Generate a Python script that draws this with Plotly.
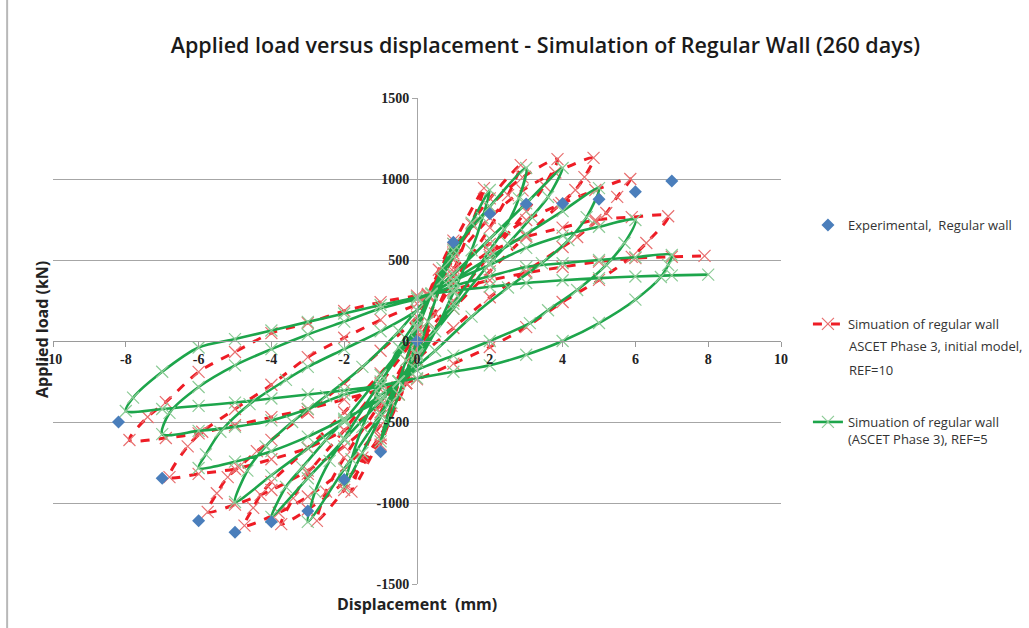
import plotly.graph_objects as go

# ---------------- data ----------------
exp_x = [0, 1, 2, 3, 4, 5, 6, 7, -1, -2, -3, -4, -5, -6, -7, -8.2]
exp_y = [0, 610, 785, 845, 848, 875, 922, 987, -683, -855, -1050, -1115, -1180, -1110, -847, -500]

# Simulation, ASCET Phase 3, initial model, REF=10 (cyclic path: N1,P1,N2,P2,...,N8,P8)
red_x = [0,
         -0.5, -1,
         -0.7, -0.3, 0, 0.3,
         0.6, 1,
         0.7, 0.3, 0, -0.3,
         -1, -1.8,
         -1.5, -1, 0, 0.3,
         1, 1.84,
         1.5, 1, 0.5, 0, -0.3,
         -1, -2, -2.75,
         -2.5, -2, -1, 0, 0.3,
         1, 2, 2.85,
         2.5, 2, 1, 0, -0.3,
         -1, -2, -3, -3.73,
         -3.4, -3, -2, -1, 0, 0.3,
         1, 2, 2.9, 3.86,
         3.5, 3, 2, 1, 0, -0.3,
         -1, -2, -3, -3.8, -4.74,
         -4.5, -4.3, -4, -3, -2, -1, 0, 0.3,
         1, 2, 2.9, 3.8, 4.85,
         4.6, 4.35, 3.97, 3, 2, 1, 0, -0.3,
         -1, -2, -3, -4, -5, -5.75,
         -5.5, -5.2, -4.9, -4.4, -4, -3, -2, -1, 0, 0.3,
         1, 2, 3, 3.9, 4.9, 5.86,
         5.5, 5.2, 4.9, 4.4, 4, 3, 2, 1, 0, -0.3,
         -1, -2, -3, -4, -5, -6, -6.8,
         -6.3, -5.9, -5, -4, -3, -2, -1, 0, 0.3,
         1, 2, 3, 4, 4.9, 5.9, 6.9,
         6.3, 5.9, 5, 4, 3, 2, 1, 0,
         -1, -2, -3, -4, -5, -6, -6.9, -7.9,
         -7.4, -6.9, -6, -5, -4, -3, -2, -1, 0, 0.3,
         1, 2, 3, 4, 5, 6, 7, 7.9]
red_y = [0,
         -330, -640,
         -400, -120, 80, 280,
         440, 620,
         380, 120, -80, -260,
         -600, -930,
         -720, -440, 20, 280,
         600, 944,
         720, 430, 170, -60, -260,
         -600, -920, -1110,
         -930, -720, -380, 20, 280,
         570, 880, 1086,
         900, 700, 360, -20, -260,
         -580, -870, -1040, -1130,
         -970, -820, -550, -260, 50, 280,
         540, 830, 1010, 1123,
         960, 800, 530, 250, -40, -260,
         -520, -790, -960, -1060, -1140,
         -1030, -950, -870, -660, -440, -200, 60, 280,
         500, 760, 930, 1040, 1130,
         1012, 932, 852, 650, 430, 200, -50, -260,
         -450, -650, -800, -920, -1010, -1055,
         -940, -840, -780, -680, -610, -440, -260, -60, 150, 280,
         450, 600, 747, 840, 932, 1000,
         890, 790, 735, 642, 580, 430, 270, 80, -120, -260,
         -400, -550, -660, -730, -790, -820, -840,
         -650, -560, -420, -270, -100, 20, 130, 230, 280,
         400, 550, 642, 700, 747, 765, 770,
         605, 519, 377, 241, 86, -37, -140, -236,
         -300, -360, -420, -470, -520, -570, -599, -611,
         -469, -377, -191, -68, 49, 111, 185, 240, 280, 290,
         320, 375, 420, 457, 490, 512, 520, 525]

# Simulation (ASCET Phase 3), REF=5 (cyclic path: N1,P1,N2,P2,...,N8,P8)
green_x = [0,
           -0.5, -1,
           -0.7, -0.3, 0, 0.4,
           0.7, 1,
           0.7, 0.3, 0, -0.5,
           -1, -1.5, -2,
           -1.8, -1.5, -1, -0.5, 0, 0.4,
           1, 1.5, 2,
           1.8, 1.5, 1, 0.5, 0, -0.5,
           -1, -2, -3,
           -2.8, -2.4, -2, -1, 0, 0.4,
           1, 2, 3,
           2.8, 2.4, 2, 1, 0, -0.5,
           -1, -2, -3, -4,
           -3.6, -3.15, -2.5, -2, -1, 0, 0.4,
           1, 2, 3, 4,
           3.6, 3.15, 2.5, 2, 1, 0, -0.5,
           -1, -2, -3, -4, -5,
           -4.66, -4.16, -3.43, -2.5, -1.5, -0.5, 0.4,
           1, 2, 3, 4, 5,
           4.66, 4.16, 3.43, 2.5, 1.5, 0.5, -0.5,
           -1, -2, -3, -4, -5, -6,
           -5.8, -5.4, -4.6, -3.6, -3, -2, -1, 0, 0.4,
           1, 2, 3, 4, 5, 6,
           5.7, 5.2, 4.4, 3.6, 3.1, 2, 1, 0, -0.5,
           -1, -2, -3, -4, -5, -6, -7,
           -6.8, -6, -5, -4, -3, -2, -1, 0, 0.4,
           1, 2, 3, 4, 5, 6, 7,
           6.9, 6.7, 6, 5, 4, 3, 2, 1, 0, -0.5,
           -1, -2, -3, -4, -5, -6, -7, -8,
           -7.8, -7, -6, -5, -4, -3, -2, -1, 0, 0.4,
           1, 2, 3, 4, 5, 6, 7, 8]
green_y = [0,
           -330, -620,
           -380, -120, 80, 290,
           450, 600,
           380, 120, -80, -250,
           -470, -690, -900,
           -730, -530, -280, -40, 130, 290,
           520, 730, 932,
           760, 560, 300, 60, -130, -250,
           -450, -790, -1117,
           -930, -740, -600, -250, 80, 290,
           560, 830, 1068,
           880, 690, 560, 230, -80, -250,
           -370, -608, -847, -1086,
           -900, -780, -610, -490, -210, 90, 290,
           412, 631, 850, 1068,
           889, 765, 600, 480, 200, -90, -250,
           -333, -498, -663, -829, -994,
           -800, -650, -500, -340, -160, 60, 290,
           375, 517, 660, 802, 944,
           765, 623, 481, 330, 150, -60, -250,
           -360, -480, -590, -680, -745, -784,
           -700, -560, -390, -240, -160, -50, 60, 190, 290,
           370, 470, 575, 650, 705, 747,
           605, 470, 315, 190, 110, 0, -90, -180, -250,
           -280, -330, -420, -490, -530, -555, -575,
           -444, -284, -150, -50, 40, 120, 200, 260, 290,
           340, 400, 457, 480, 500, 517, 531,
           470, 395, 255, 111, 0, -85, -150, -190, -230, -250,
           -275, -305, -330, -355, -380, -400, -420, -432,
           -350, -190, -40, 12, 65, 118, 170, 222, 270, 290,
           310, 335, 358, 375, 388, 398, 405, 410]

x_tick_vals = [-10, -8, -6, -4, -2, 0, 2, 4, 6, 8, 10]
x_tick_text = ["-10", "-8", "-6", "-4", "-2", "0", "2", "4", "6", "8", "10"]
y_tick_vals = [-1500, -1000, -500, 0, 500, 1000, 1500]
y_tick_text = ["-1500", "-1000", "-500", "0", "500", "1000", "1500"]

name_exp = "Experimental,  Regular wall"
name_red = "Simuation of regular wall"
name_red_more = ["ASCET Phase 3, initial model,", "REF=10"]
name_green = "Simuation of regular wall<br>(ASCET Phase 3), REF=5"

# ---------------- figure ----------------
fig = go.Figure()

fig.add_trace(go.Scatter(
    x=red_x, y=red_y, mode="lines+markers", name=name_red,
    line=dict(color="#EE1C25", width=3, dash="dash", shape="spline", smoothing=0.8),
    marker=dict(symbol="x-thin", size=12, color="#E87070",
                line=dict(width=1.2, color="#E87070")),
    legend="legend2", legendrank=2, showlegend=True,
))
fig.add_trace(go.Scatter(
    x=green_x, y=green_y, mode="lines+markers", name=name_green,
    line=dict(color="#1DA54B", width=2.6, shape="spline", smoothing=0.8),
    marker=dict(symbol="x-thin", size=12, color="#8CCB96",
                line=dict(width=1.2, color="#8CCB96")),
    legend="legend3", legendrank=3, showlegend=True,
))
fig.add_trace(go.Scatter(
    x=exp_x, y=exp_y, mode="markers", name=name_exp,
    marker=dict(symbol="diamond", size=10, color="#4A7EBB"),
    legend="legend", legendrank=1, showlegend=True,
))

axis_font = dict(family="Liberation Serif", size=14, color="#222222", weight="bold")
fig.update_xaxes(
    range=[-10, 10], anchor="free", position=0.5,
    showgrid=False, zeroline=False,
    showline=True, linecolor="#9A9A9A", linewidth=1,
    ticks="outside", ticklen=5, tickcolor="#9A9A9A",
    tickvals=x_tick_vals, ticktext=x_tick_text, tickfont=axis_font,
)
fig.update_yaxes(
    range=[-1500, 1500], anchor="free", position=0.5,
    showgrid=True, gridcolor="#A6A6A6", gridwidth=1, zeroline=False,
    showline=True, linecolor="#A6A6A6", linewidth=1,
    ticks="outside", ticklen=5, tickcolor="#A6A6A6",
    tickvals=y_tick_vals, ticktext=y_tick_text, tickfont=axis_font,
)

legend_font = dict(family="Open Sans", size=13, color="#333333")
common_leg = dict(font=legend_font, bgcolor="rgba(0,0,0,0)", valign="top",
                  xanchor="left", yanchor="top", itemwidth=30, visible=True)

def py(px):
    return 1 - (px - 98) / 486

def pxx(px):
    return (px - 53) / 730

legend_text_x = pxx(849)
fig.update_layout(
    width=1029, height=628,
    margin=dict(l=53, r=246, t=98, b=44),
    plot_bgcolor="white", paper_bgcolor="white",
    showlegend=True,
    title=dict(text="Applied load versus displacement - Simulation of Regular Wall (260 days)",
               x=0.53, xanchor="center", y=0.928, yanchor="middle", yref="container",
               font=dict(family="Open Sans", size=21.5, color="#1a1a1a", weight=600)),
    legend=dict(x=pxx(810), y=py(210), **common_leg),
    legend2=dict(x=pxx(810), y=py(309), **common_leg),
    legend3=dict(x=pxx(810), y=py(407), **common_leg),
    annotations=[
        dict(text="<b>Displacement  (mm)</b>", x=0.5, y=py(604), xref="paper", yref="paper",
             showarrow=False, xanchor="center", yanchor="middle",
             font=dict(family="Open Sans", size=16, color="#222222")),
        dict(text="<b>Applied load (kN)</b>", x=pxx(42), y=py(330), xref="paper", yref="paper",
             showarrow=False, textangle=-90, xanchor="center", yanchor="middle",
             font=dict(family="Open Sans", size=16, color="#222222")),
        dict(text=name_red_more[0], x=legend_text_x, y=py(346), xref="paper", yref="paper",
             showarrow=False, xanchor="left", yanchor="middle", font=legend_font),
        dict(text=name_red_more[1], x=legend_text_x, y=py(370), xref="paper", yref="paper",
             showarrow=False, xanchor="left", yanchor="middle", font=legend_font),
    ],
    shapes=[
        dict(type="line", xref="paper", yref="paper", x0=pxx(7), x1=pxx(7), y0=-0.2, y1=1.3,
             line=dict(color="#B8B8B8", width=2)),
    ],
)

fig.write_html("out.html")
